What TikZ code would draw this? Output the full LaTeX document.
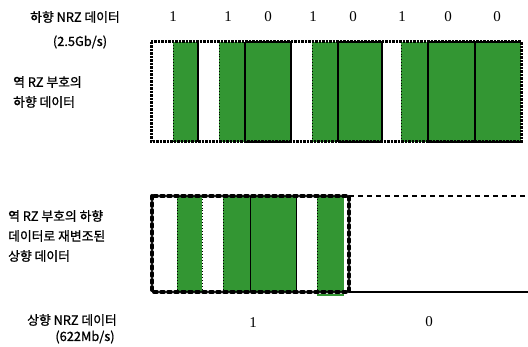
\documentclass[tikz,border=0pt]{standalone}
\usepackage{fontspec}
\usepackage{xcolor}
\usepackage{tikz}
\newfontfamily\hangul[FakeBold=1]{Noto Sans CJK KR}
\setmainfont{Liberation Serif}
\definecolor{Sig}{RGB}{51,150,51}
\tikzset{
    label/.style={font=\hangul\fontsize{12.8}{20}\selectfont, inner sep=0pt},
    bit/.style={font=\fontsize{15}{15}\selectfont, inner sep=0pt},
    edge/.style={line width=2.2pt},
    frame/.style={line width=3pt, dash pattern=on 2.5pt off 1pt},
    seam/.style={line width=0.9pt, dotted}
}

\begin{document}
\begin{tikzpicture}[x=1pt,y=-1pt]
    \useasboundingbox (0,0) rectangle (528,347);
    % downstream NRZ labels
    \node [label] (dnrz) at (75,17) {하향 NRZ 데이터};
    \node [label] (drate) at (80,42) {(2.5Gb/s)};
    \node [label, anchor=west, align=left] (drz) at (13,92) {역 RZ 부호의\\하향 데이터};
    \node [label, anchor=west, align=left] (urz) at (8,236) {역 RZ 부호의 하향\\데이터로 재변조된\\상향 데이터};
    \node [label] (unrz) at (72,320) {상향 NRZ 데이터};
    \node [label] (urate) at (85,337) {(622Mb/s)};
    % bit values
    \foreach \x/\b [count=\i] in {173/1,228/1,268/0,313/1,353/0,402/1,448/0,497/0}
        \node [bit] (top\i) at (\x,17) {\b};
    \node [bit] (low1) at (253,323) {1};
    \node [bit] (low0) at (429,322) {0};

    % downstream RZ strip
    \foreach \a/\b in {173/198,219/245,245/291,312/338,338/382,401/428,428/475,475/521}
        \fill [Sig] (\a,42) rectangle (\b,142);
    \draw [frame] (151,42) rectangle (521,142);
    \foreach \a/\b in {245/291,338/382,428/521}
        \draw [edge] (\a,42) -- (\b,42) (\a,142) -- (\b,142);
    \foreach \x in {198,245,291,338,382,428,475}
        \draw [edge] (\x,42) -- (\x,142);
    \foreach \x in {173,219,312,401}
        \draw [seam] (\x,42) -- (\x,142);

    % remodulated upstream strip
    \foreach \a/\b in {177/202,223/250,250/296,317/344}
        \fill [Sig] (\a,196) rectangle (\b,292);
    \draw [Sig, line width=1.5pt] (317,295) -- (344,295);
    \foreach \x in {177,202,223,317}
        \draw [seam] (\x,196) -- (\x,292);
    \foreach \x in {250,296}
        \draw [line width=1pt] (\x,196) -- (\x,292);
    \draw [line width=2.5pt, dash pattern=on 5pt off 4pt] (349,196) -- (528,196);
    \draw [line width=2.5pt] (349,292) -- (528,292);
    \draw [line width=4pt, dash pattern=on 3pt off 4pt, line cap=round]
        (152,196) rectangle (349,292);
\end{tikzpicture}
\end{document}
